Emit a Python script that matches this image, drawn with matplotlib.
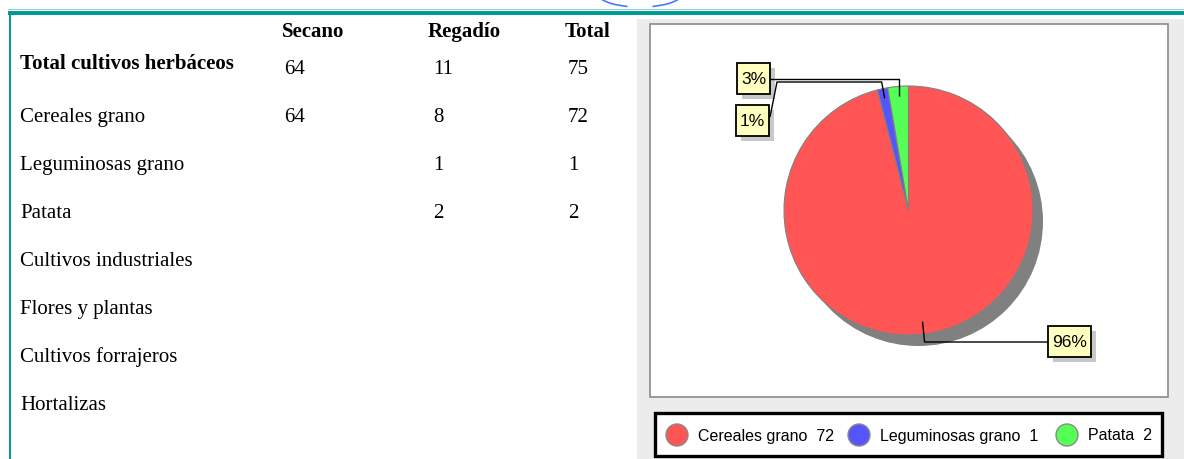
import math

import matplotlib
matplotlib.use("Agg")
import matplotlib.pyplot as plt
from matplotlib.patches import Rectangle, Circle, Arc

# --- data ------------------------------------------------------------------ #
COLUMNS = ["Secano", "Regadío", "Total"]
ROW_LABELS = ["Total cultivos herbáceos", "Cereales grano", "Leguminosas grano",
              "Patata", "Cultivos industriales", "Flores y plantas",
              "Cultivos forrajeros", "Hortalizas"]
SECANO = [64, 64, None, None, None, None, None, None]
REGADIO = [11, 8, 1, 2, None, None, None, None]
TOTAL = [75, 72, 1, 2, None, None, None, None]

PIE_LABELS = ["Cereales grano", "Leguminosas grano", "Patata"]
PIE_VALUES = [72, 1, 2]
PIE_COLORS = ["#ff5555", "#5555ff", "#55ff55"]

# --- layout (pixels) ------------------------------------------------------- #
W, H = 1184, 459
TEAL = "#009a98"
SERIF = "Liberation Serif"
SANS = "Liberation Sans"
CX, CY, R = 908.5, 210.5, 124.5        # pie centre / radius in px

fig = plt.figure(figsize=(W / 100, H / 100), dpi=100)
fig.patch.set_facecolor("white")

# background layer: frame, panel, table
bg = fig.add_axes([0, 0, 1, 1])
bg.set_xlim(0, W); bg.set_ylim(H, 0); bg.axis("off")

bg.add_patch(Rectangle((8, 11), W - 8, 4, color=TEAL, lw=0))
bg.add_patch(Rectangle((8, 9), W - 8, 1.2, color="#8fcfcd", lw=0))
bg.add_patch(Rectangle((8.5, 11), 2.5, H - 11, color=TEAL, lw=0))
# cut-off oval above the frame: only its two lower sides peek in
for t1, t2 in [(8, 45), (135, 172)]:
    bg.add_patch(Arc((640, -6), 84, 26, theta1=t1, theta2=t2, color="#4a7bff",
                     lw=1.2))

bg.add_patch(Rectangle((637, 19), W - 637, H - 19, color="#ececec", lw=0))
bg.add_patch(Rectangle((650, 24), 518, 373, fc="white", ec="#8a8a8a", lw=1.2))

# table
col_x = [282, 428, 565]
val_x = [284, 433, 568]
for x, name in zip(col_x, COLUMNS):
    bg.text(x, 37, name, family=SERIF, fontsize=15, weight="bold", va="baseline")

for i, label in enumerate(ROW_LABELS):
    if i == 0:
        base, vbase, wt = 69, 74, "bold"
    else:
        base = 122 + 48 * (i - 1)
        vbase, wt = base, "normal"
    bg.text(20, base, label, family=SERIF, fontsize=15, weight=wt, va="baseline")
    for x, col in zip(val_x, (SECANO, REGADIO, TOTAL)):
        if col[i] is not None:
            bg.text(x, vbase, str(col[i]), family=SERIF, fontsize=15, va="baseline")

# pie layer
pax = fig.add_axes([(CX - R) / W, 1 - (CY + R) / H, 2 * R / W, 2 * R / H])
pax.add_patch(Circle((10 / R, -11 / R), 1, color="#808080", lw=0, zorder=0,
                     clip_on=False))
pax.pie(PIE_VALUES, colors=PIE_COLORS, startangle=90, counterclock=False,
        radius=1, wedgeprops=dict(edgecolor="#808080", linewidth=0.8))
pax.set_xlim(-1, 1); pax.set_ylim(-1, 1); pax.axis("off")
for w in pax.patches:
    w.set_clip_on(False)

# overlay: leaders, percentage boxes, legend
ov = fig.add_axes([0, 0, 1, 1])
ov.set_xlim(0, W); ov.set_ylim(H, 0); ov.axis("off"); ov.patch.set_alpha(0)

total = sum(PIE_VALUES)
tips = []
cum = 0
for v in PIE_VALUES:
    mid = math.radians((cum + v / 2) / total * 360)
    rr = 0.9 * R if v / total > 0.5 else 0.92 * R
    tips.append((CX + rr * math.sin(mid), CY - rr * math.cos(mid)))
    cum += v
pcts = [f"{round(100 * v / total)}%" for v in PIE_VALUES]


def label_box(x0, y0, w, h, txt):
    ov.add_patch(Rectangle((x0 + 5, y0 + 5), w, h, fc="#c8c8c8", lw=0))
    ov.add_patch(Rectangle((x0, y0), w, h, fc="#ffffc0", ec="black", lw=1.3))
    ov.text(x0 + w / 2, y0 + h / 2 + 1, txt, family=SANS, fontsize=12.5,
            ha="center", va="center")


lk = dict(color="black", lw=1.0, solid_capstyle="butt")
# Cereales
tx, ty = tips[0]
ov.plot([tx, tx + 2, 1048], [ty, 342, 342], **lk)
label_box(1048, 326, 43, 31, pcts[0])
# Leguminosas
tx, ty = tips[1]
ov.plot([tx, tx - 3, 777, 770], [ty, 82, 82, 117], **lk)
label_box(736, 105, 33, 31, pcts[1])
# Patata
tx, ty = tips[2]
ov.plot([tx, tx, 770], [ty, 79, 79], **lk)
label_box(737, 63, 33, 31, pcts[2])

# legend
ov.add_patch(Rectangle((655, 413), 507, 43, fc="white", ec="black", lw=2.4))
for cx, lab, val, col in zip([677, 859, 1067], PIE_LABELS, PIE_VALUES, PIE_COLORS):
    ov.add_patch(Circle((cx, 435), 11, fc=col, ec="#8a8a8a", lw=1.0))
    ov.text(cx + 21, 436, f"{lab}  {val}", family=SANS, fontsize=11.5,
            va="center")

fig.savefig("out.png", dpi=100)
